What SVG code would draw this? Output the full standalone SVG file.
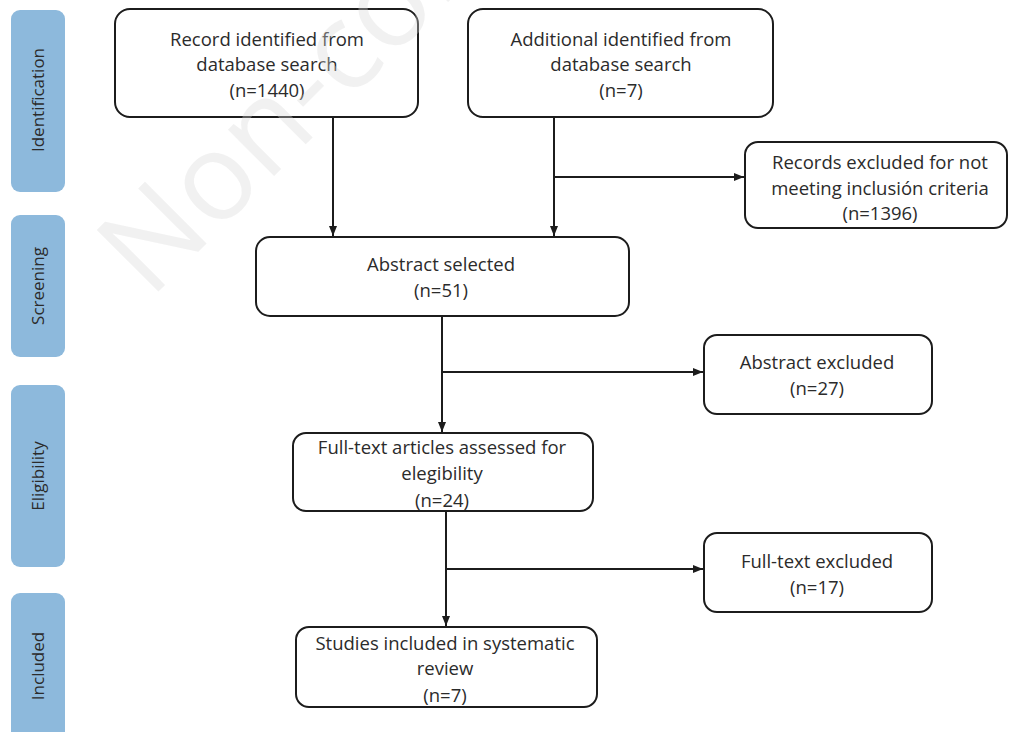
<svg xmlns="http://www.w3.org/2000/svg" width="1009" height="732" viewBox="0 0 1009 732">
<defs>
<style>
.box{fill:#fff;stroke:#1c1c1c;stroke-width:2}
.lane{fill:#8db9dc}
.t{font-family:"Open Sans",sans-serif;font-size:18.5px;fill:#2b2b2b;text-anchor:middle}
.lt{font-family:"Open Sans",sans-serif;font-size:17px;fill:#2b2b2b;text-anchor:middle}
.c{fill:none;stroke:#1c1c1c;stroke-width:2}
.wm{font-family:"Open Sans",sans-serif;font-size:122px;fill:#d8d8d8;fill-opacity:0.35}
</style>
<marker id="ah" viewBox="0 0 10 10" refX="10" refY="5" markerWidth="10" markerHeight="10" markerUnits="userSpaceOnUse" orient="auto">
<path d="M0,1 L10,5 L0,9 Z" fill="#1c1c1c"/>
</marker>
</defs>
<rect width="1009" height="732" fill="#fff"/>

<g id="lane-identification"><rect class="lane" x="11" y="10" width="54" height="182" rx="9"/><text class="lt" transform="translate(44,100) rotate(-90)">Identification</text></g>
<g id="lane-screening"><rect class="lane" x="11" y="215" width="54" height="142" rx="9"/><text class="lt" transform="translate(44,286) rotate(-90)">Screening</text></g>
<g id="lane-eligibility"><rect class="lane" x="11" y="385" width="54" height="182" rx="9"/><text class="lt" transform="translate(44,476) rotate(-90)">Eligibility</text></g>
<g id="lane-included"><rect class="lane" x="11" y="593" width="54" height="150" rx="9"/><text class="lt" transform="translate(44,666) rotate(-90)">Included</text></g>

<g id="connectors">
<path class="c" d="M333,117 V236" marker-end="url(#ah)"/>
<path class="c" d="M554,117 V236" marker-end="url(#ah)"/>
<path class="c" d="M554,177 H744" marker-end="url(#ah)"/>
<path class="c" d="M442,316 V432" marker-end="url(#ah)"/>
<path class="c" d="M442,372 H703" marker-end="url(#ah)"/>
<path class="c" d="M446,511 V626" marker-end="url(#ah)"/>
<path class="c" d="M446,569 H703" marker-end="url(#ah)"/>
</g>

<g id="n-record"><rect class="box" x="115" y="9" width="303" height="108" rx="15"/>
<text class="t" x="267" y="46">Record identified from</text><text class="t" x="267" y="71">database search</text><text class="t" x="267" y="97">(n=1440)</text></g>
<g id="n-additional"><rect class="box" x="468" y="9" width="305" height="108" rx="15"/>
<text class="t" x="621" y="46">Additional identified from</text><text class="t" x="621" y="71">database search</text><text class="t" x="621" y="97">(n=7)</text></g>
<g id="n-records-excluded"><rect class="box" x="745" y="142" width="262" height="86" rx="13"/>
<text class="t" x="880" y="169">Records excluded for not</text><text class="t" x="880" y="195">meeting inclusión criteria</text><text class="t" x="880" y="220">(n=1396)</text></g>
<g id="n-abstract"><rect class="box" x="256" y="237" width="373" height="79" rx="14"/>
<text class="t" x="441" y="271">Abstract selected</text><text class="t" x="441" y="297">(n=51)</text></g>
<g id="n-abstract-excluded"><rect class="box" x="704" y="335" width="228" height="79" rx="13"/>
<text class="t" x="817" y="369">Abstract excluded</text><text class="t" x="817" y="395">(n=27)</text></g>
<g id="n-fulltext"><rect class="box" x="293" y="433" width="300" height="78" rx="13"/>
<text class="t" x="442" y="454">Full-text articles assessed for</text><text class="t" x="442" y="480">elegibility</text><text class="t" x="442" y="507">(n=24)</text></g>
<g id="n-fulltext-excluded"><rect class="box" x="704" y="533" width="228" height="79" rx="13"/>
<text class="t" x="817" y="568">Full-text excluded</text><text class="t" x="817" y="594">(n=17)</text></g>
<g id="n-studies"><rect class="box" x="296" y="627" width="301" height="80" rx="13"/>
<text class="t" x="445" y="650">Studies included in systematic</text><text class="t" x="445" y="675">review</text><text class="t" x="445" y="702">(n=7)</text></g>

<text class="wm" transform="translate(150,300) rotate(-45)">Non-com</text>
</svg>
